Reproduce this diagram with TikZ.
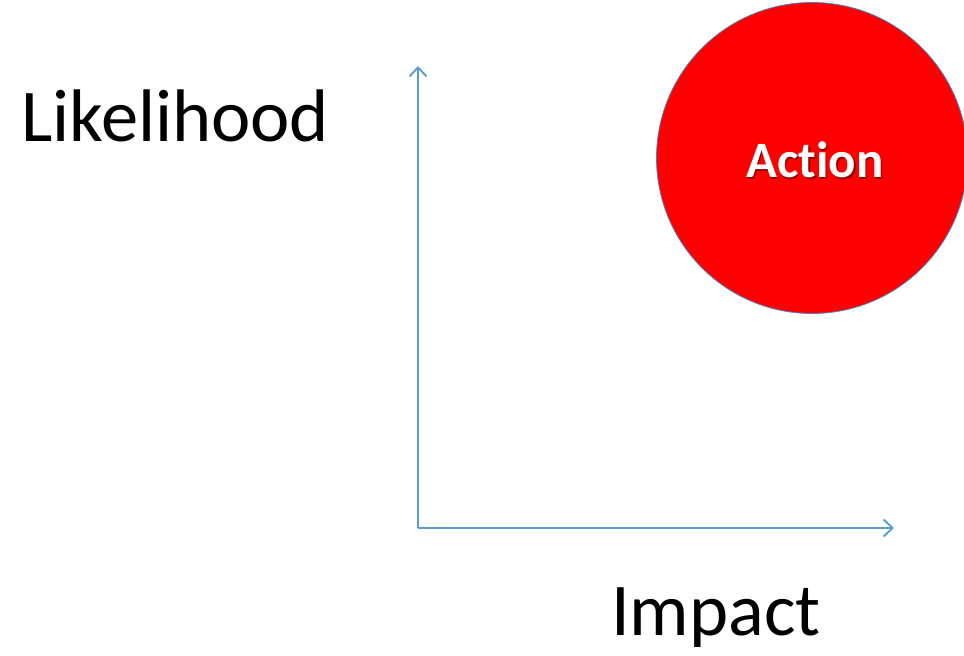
\documentclass[tikz,border=0pt]{standalone}
\usepackage{fontspec}
\setmainfont{Carlito}
\newfontfamily\actfont[Ligatures=NoCommon]{Carlito}
\usetikzlibrary{arrows.meta}
\definecolor{axisblue}{RGB}{91,155,213}
\definecolor{rimblue}{RGB}{79,129,189}
\begin{document}
\begin{tikzpicture}[x=1pt,y=1pt,
  axis/.style={draw=axisblue,line width=1.9pt,-{Straight Barb[length=9pt,width=17pt,line width=1.9pt]}},
  bigtext/.style={font=\fontsize{74.5}{82}\selectfont,inner sep=0pt,anchor=base west},
  actiontext/.style={font=\actfont\bfseries\fontsize{51}{56}\selectfont,text=white,inner sep=0pt}]
\useasboundingbox (0,0) rectangle (964,656);
\begin{scope}
\clip (0,0) rectangle (964,656);
\node[circle,fill=red,draw=rimblue,line width=0.8pt,minimum size=311pt,inner sep=0pt] (act) at (812,498) {};
\end{scope}
\node[actiontext,text=black!60!red,opacity=0.7] (actsh) at (816.5,494.5) {Action};
\node[actiontext] (actlbl) at (815,496) {Action};
\coordinate (origin) at (418,128);
\coordinate (ytop) at (418,590);
\coordinate (xend) at (894,128);
\draw[axis] (origin) -- (ytop);
\draw[axis] (origin) -- (xend);
\node[bigtext] (lik) at (21,514) {Likelihood};
\node[bigtext] (imp) at (611,20) {Impact};
\end{tikzpicture}
\end{document}
